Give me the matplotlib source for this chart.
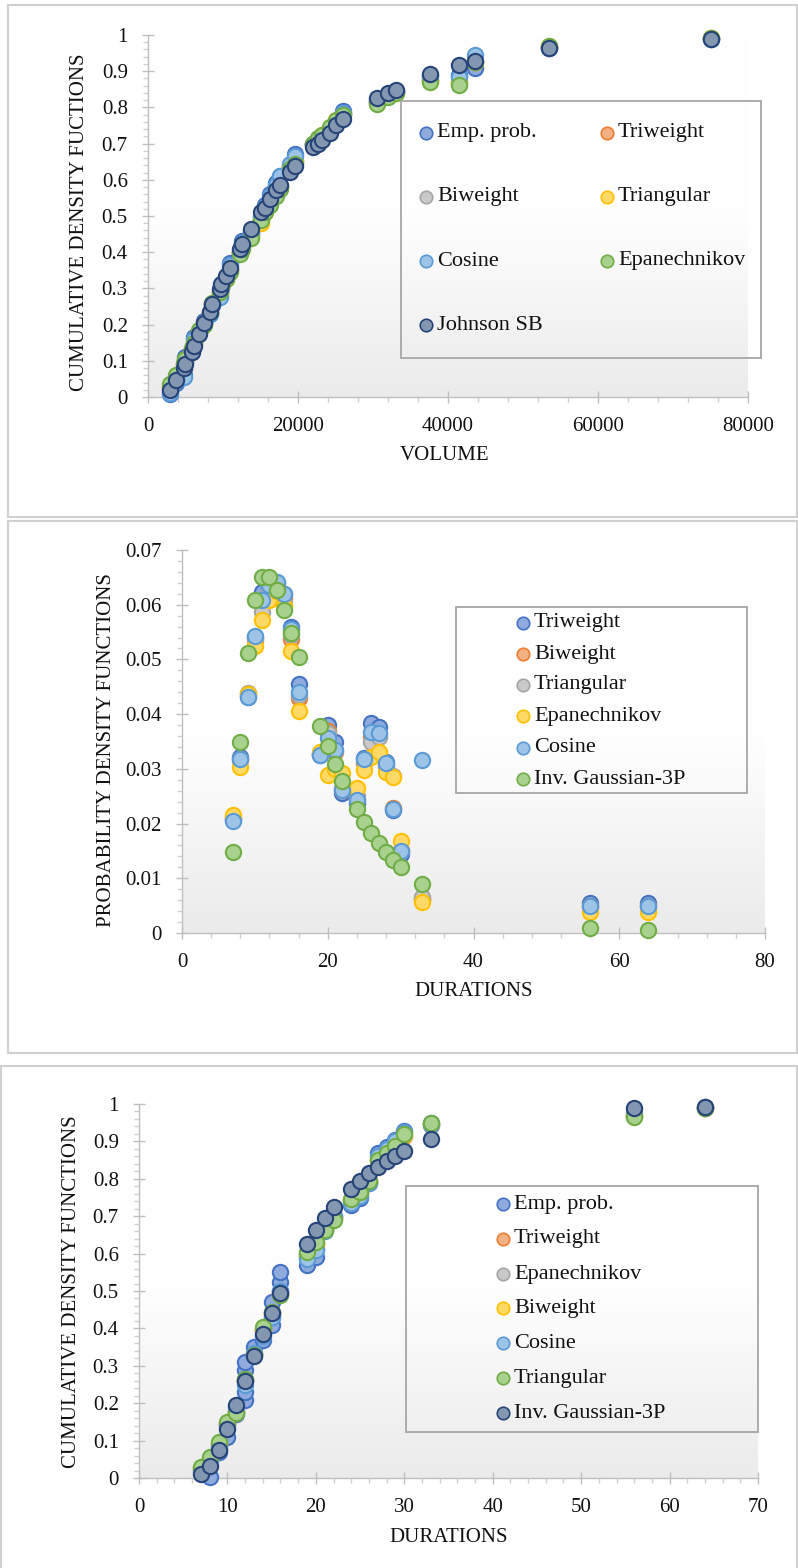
import numpy as np
import matplotlib.pyplot as plt
from matplotlib.patches import Rectangle
from matplotlib.lines import Line2D
from matplotlib.ticker import MultipleLocator, FuncFormatter
from matplotlib.colors import LinearSegmentedColormap

plt.rcParams['font.family'] = ['Liberation Serif', 'DejaVu Serif']

# ---- volume CDF ----
volume = [2990, 3790, 4800, 4950, 5920, 6130, 6800, 7430, 8230, 8590, 9560, 9790,
          10360, 10890, 12230, 12590, 13790, 15120, 15560, 16320, 17120, 17650,
          18890, 19650, 21950, 22600, 23150, 24230, 25100, 26000, 30500, 32000,
          33030, 37650, 41470, 43560, 53470, 75100]
vol_emp = [0.008, 0.040, 0.060, 0.110, 0.130, 0.165, 0.180, 0.210, 0.230, 0.255, 0.280, 0.300,
           0.330, 0.370, 0.400, 0.430, 0.455, 0.500, 0.530, 0.560, 0.590, 0.610,
           0.640, 0.670, 0.700, 0.710, 0.720, 0.740, 0.760, 0.790, 0.820, 0.835,
           0.845, 0.890, 0.890, 0.910, 0.965, 0.990]
vol_triweight = [0.028, 0.052, 0.088, 0.100, 0.130, 0.148, 0.180, 0.205, 0.234, 0.258, 0.290, 0.305,
                 0.328, 0.352, 0.400, 0.418, 0.450, 0.490, 0.515, 0.540, 0.565, 0.582,
                 0.635, 0.650, 0.698, 0.712, 0.722, 0.742, 0.762, 0.782, 0.815, 0.832,
                 0.842, 0.875, 0.870, 0.925, 0.968, 0.991]
vol_biweight = [0.027, 0.051, 0.087, 0.099, 0.129, 0.147, 0.179, 0.204, 0.233, 0.257, 0.289, 0.304,
                0.327, 0.351, 0.399, 0.417, 0.448, 0.488, 0.514, 0.539, 0.564, 0.581,
                0.636, 0.652, 0.698, 0.712, 0.722, 0.742, 0.762, 0.782, 0.815, 0.832,
                0.842, 0.875, 0.870, 0.925, 0.968, 0.991]
vol_triangular = [0.030, 0.054, 0.090, 0.102, 0.132, 0.150, 0.182, 0.202, 0.232, 0.256, 0.287, 0.303,
                  0.326, 0.350, 0.398, 0.415, 0.445, 0.480, 0.512, 0.538, 0.562, 0.580,
                  0.638, 0.652, 0.699, 0.714, 0.724, 0.744, 0.764, 0.781, 0.812, 0.831,
                  0.841, 0.872, 0.866, 0.925, 0.969, 0.991]
vol_cosine = [0.010, 0.045, 0.055, 0.100, 0.125, 0.160, 0.180, 0.205, 0.230, 0.255, 0.275, 0.300,
              0.330, 0.365, 0.400, 0.425, 0.455, 0.495, 0.525, 0.555, 0.585, 0.610,
              0.645, 0.665, 0.700, 0.710, 0.720, 0.740, 0.760, 0.785, 0.815, 0.835,
              0.845, 0.885, 0.885, 0.945, 0.965, 0.990]
vol_epan = [0.035, 0.060, 0.095, 0.105, 0.135, 0.150, 0.185, 0.200, 0.235, 0.260, 0.290, 0.305,
            0.325, 0.345, 0.395, 0.410, 0.440, 0.490, 0.510, 0.530, 0.555, 0.575,
            0.630, 0.645, 0.700, 0.715, 0.725, 0.745, 0.765, 0.780, 0.810, 0.830,
            0.840, 0.870, 0.862, 0.925, 0.970, 0.992]
vol_johnson = [0.020, 0.046, 0.081, 0.090, 0.124, 0.140, 0.173, 0.204, 0.235, 0.258, 0.297, 0.311,
               0.333, 0.357, 0.410, 0.424, 0.465, 0.511, 0.523, 0.548, 0.571, 0.585,
               0.622, 0.638, 0.691, 0.700, 0.709, 0.729, 0.750, 0.767, 0.826, 0.839,
               0.849, 0.893, 0.916, 0.927, 0.965, 0.990]

# ---- durations PDF ----
durations = [7, 8, 9, 10, 11, 12, 13, 14, 15, 16, 19, 20, 21, 22, 24, 25, 26, 27, 28, 29, 30, 33, 56, 64]
pdf_triweight = [0.0207, 0.0321, 0.0432, 0.0541, 0.0623, 0.0630, 0.0640, 0.0620, 0.0560, 0.0456, 0.0325, 0.0381,
                 0.0350, 0.0255, 0.0237, 0.0320, 0.0383, 0.0376, 0.0313, 0.0225, 0.0144, 0.0063, 0.0054, 0.0054]
pdf_biweight = [0.0210, 0.0316, 0.0436, 0.0535, 0.0600, 0.0622, 0.0635, 0.0612, 0.0538, 0.0429, 0.0327, 0.0370,
                0.0330, 0.0262, 0.0245, 0.0310, 0.0360, 0.0360, 0.0305, 0.0228, 0.0152, 0.0062, 0.0050, 0.0050]
pdf_triangular = [0.0210, 0.0318, 0.0439, 0.0538, 0.0587, 0.0625, 0.0632, 0.0605, 0.0545, 0.0435, 0.0328, 0.0365,
                  0.0335, 0.0265, 0.0250, 0.0312, 0.0350, 0.0358, 0.0305, 0.0287, 0.0150, 0.0065, 0.0048, 0.0048]
pdf_epan = [0.0216, 0.0303, 0.0436, 0.0524, 0.0572, 0.0608, 0.0625, 0.0598, 0.0516, 0.0406, 0.0330, 0.0288,
            0.0300, 0.0293, 0.0265, 0.0297, 0.0322, 0.0331, 0.0295, 0.0285, 0.0169, 0.0057, 0.0038, 0.0038]
pdf_cosine = [0.0205, 0.0318, 0.0432, 0.0543, 0.0609, 0.0636, 0.0642, 0.0619, 0.0555, 0.0441, 0.0326, 0.0356,
              0.0334, 0.0262, 0.0243, 0.0318, 0.0368, 0.0365, 0.0310, 0.0226, 0.0150, 0.0317, 0.0050, 0.0050]
pdf_invgauss = [0.0148, 0.0350, 0.0512, 0.0608, 0.0650, 0.0651, 0.0627, 0.0591, 0.0549, 0.0505, 0.0378, 0.0342,
                0.0309, 0.0277, 0.0226, 0.0202, 0.0182, 0.0165, 0.0148, 0.0134, 0.0120, 0.0090, 0.0010, 0.0005]

# ---- durations CDF ----
dur_obs = [8, 9, 9, 10, 10, 11, 11, 12, 12, 12, 12, 12, 13, 13, 14, 14, 15, 15, 15, 16, 16, 16,
           19, 19, 20, 20, 21, 22, 24, 25, 26, 27, 28, 29, 30, 33, 56, 64]
cdf_emp = [0.003, 0.070, 0.085, 0.110, 0.145, 0.170, 0.190, 0.209, 0.231, 0.260, 0.289, 0.311, 0.330, 0.351,
           0.370, 0.395, 0.410, 0.430, 0.470, 0.500, 0.525, 0.552, 0.570, 0.600, 0.590, 0.612, 0.665, 0.700,
           0.730, 0.750, 0.790, 0.870, 0.885, 0.905, 0.929, 0.950, 0.975, 0.992]
cdf_triweight = [0.025, 0.050, 0.090, 0.145, 0.178, 0.262, 0.332, 0.395, 0.440, 0.492, 0.590, 0.625,
                 0.665, 0.695, 0.740, 0.760, 0.795, 0.850, 0.872, 0.893, 0.915, 0.945, 0.968, 0.990]
cdf_epan = [0.027, 0.052, 0.092, 0.147, 0.176, 0.263, 0.331, 0.398, 0.442, 0.491, 0.595, 0.628,
            0.664, 0.693, 0.742, 0.762, 0.795, 0.850, 0.871, 0.891, 0.918, 0.946, 0.967, 0.990]
cdf_biweight = [0.026, 0.051, 0.091, 0.146, 0.177, 0.262, 0.331, 0.396, 0.441, 0.491, 0.592, 0.626,
                0.664, 0.694, 0.741, 0.761, 0.795, 0.850, 0.871, 0.892, 0.916, 0.945, 0.967, 0.990]
cdf_cosine = [0.020, 0.045, 0.080, 0.140, 0.180, 0.250, 0.335, 0.380, 0.430, 0.500, 0.585, 0.610,
              0.660, 0.700, 0.735, 0.755, 0.790, 0.860, 0.880, 0.900, 0.925, 0.945, 0.968, 0.990]
cdf_triangular = [0.030, 0.057, 0.097, 0.150, 0.173, 0.265, 0.330, 0.403, 0.445, 0.490, 0.605, 0.630,
                  0.663, 0.690, 0.745, 0.765, 0.795, 0.850, 0.870, 0.889, 0.920, 0.948, 0.966, 0.990]
cdf_invgauss = [0.010, 0.032, 0.075, 0.130, 0.195, 0.260, 0.325, 0.385, 0.442, 0.495, 0.625, 0.663,
                0.696, 0.724, 0.774, 0.795, 0.815, 0.831, 0.847, 0.862, 0.874, 0.906, 0.988, 0.991]

# marker colours (edge, fill)
BLUE = ('#4472C4', '#8FAADC')
ORANGE = ('#ED7D31', '#F4B183')
GREY = ('#A5A5A5', '#C9C9C9')
YELLOW = ('#FFC000', '#FFD966')
LBLUE = ('#5B9BD5', '#9DC3E6')
GREEN = ('#70AD47', '#A9D18E')
NAVY = ('#264478', '#8497B0')

W, H = 798, 1568
fig = plt.figure(figsize=(W / 100, H / 100), dpi=100)


def fx(x):
    return x / W


def fy(y):
    return 1 - y / H


def frame(x0, y0, x1, y1):
    fig.add_artist(Rectangle((fx(x0), fy(y1)), fx(x1 - x0), (y1 - y0) / H,
                             transform=fig.transFigure, fill=False, ec='#d0d0d0', lw=1.5))


def make_axes(left, top, right, bottom):
    ax = fig.add_axes([fx(left), fy(bottom), fx(right - left), (bottom - top) / H])
    grad = np.linspace(0, 1, 256)[:, None]
    cmap = LinearSegmentedColormap.from_list('bg', ['#ffffff', '#fefefe', '#ebebeb'])
    ax.imshow(grad, cmap=cmap, extent=[0, 1, 0, 1], transform=ax.transAxes,
              aspect='auto', zorder=0, interpolation='bilinear')
    for s in ['top', 'right']:
        ax.spines[s].set_visible(False)
    for s in ['left', 'bottom']:
        ax.spines[s].set_color('#bfbfbf')
        ax.spines[s].set_linewidth(1)
    ax.tick_params(which='major', direction='inout', length=9, width=1, color='#bfbfbf',
                   labelsize=15, labelcolor='#111111', pad=10)
    ax.tick_params(which='minor', direction='out', length=3.5, width=1, color='#cfcfcf')
    fmt = FuncFormatter(lambda v, p: '%g' % round(v, 6))
    ax.xaxis.set_major_formatter(fmt)
    ax.yaxis.set_major_formatter(fmt)
    return ax


def titles(xlab, xpos, ylab, ypos):
    fig.text(fx(xpos[0]), fy(xpos[1]), xlab, fontsize=15, ha='center', va='center', color='#111111')
    fig.text(fx(ypos[0]), fy(ypos[1]), ylab, fontsize=15, ha='center', va='center',
             rotation=90, color='#111111')


def scatter(ax, x, y, col, z):
    ax.plot(x, y, linestyle='none', marker='o', markersize=11, markeredgewidth=1.5,
            markeredgecolor=col[0], markerfacecolor=col[1], clip_on=False, zorder=z)


def legend(box, entries, size=16):
    x0, y0, x1, y1 = box
    fig.add_artist(Rectangle((fx(x0), fy(y1)), fx(x1 - x0), (y1 - y0) / H,
                             transform=fig.transFigure, fill=False, ec='#a6a6a6', lw=1.3))
    for mx, my, label, col in entries:
        fig.add_artist(Line2D([fx(mx)], [fy(my)], transform=fig.transFigure, marker='o',
                              markersize=9, markeredgewidth=1.2,
                              markeredgecolor=col[0], markerfacecolor=col[1]))
        fig.text(fx(mx + 11), fy(my), label, fontsize=size, va='center', ha='left', color='#111111')


# ---------------- panel 1 ----------------
frame(8, 5, 797, 517)
ax1 = make_axes(148, 35, 748, 397)
series1 = [(vol_emp, BLUE), (vol_triweight, ORANGE), (vol_biweight, GREY), (vol_triangular, YELLOW),
           (vol_cosine, LBLUE), (vol_epan, GREEN), (vol_johnson, NAVY)]
for i, (vals, col) in enumerate(series1):
    scatter(ax1, volume, vals, col, 3 + i)
ax1.set_xlim(0, 80000)
ax1.set_ylim(0, 1)
ax1.xaxis.set_major_locator(MultipleLocator(20000))
ax1.xaxis.set_minor_locator(MultipleLocator(4000))
ax1.yaxis.set_major_locator(MultipleLocator(0.1))
ax1.yaxis.set_minor_locator(MultipleLocator(0.02))
titles('VOLUME', (445, 456), 'CUMULATIVE DENSITY FUCTIONS', (80, 222))
legend((401, 101, 761, 358),
       [(426, 133, 'Emp. prob.', BLUE), (607, 133, 'Triweight', ORANGE),
        (426, 197, 'Biweight', GREY), (607, 197, 'Triangular', YELLOW),
        (426, 261, 'Cosine', LBLUE), (607, 261, 'Epanechnikov', GREEN),
        (426, 325, 'Johnson SB', NAVY)])

# ---------------- panel 2 ----------------
frame(8, 521, 797, 1053)
ax2 = make_axes(182, 550, 765, 933)
series2 = [(pdf_triweight, BLUE), (pdf_biweight, ORANGE), (pdf_triangular, GREY), (pdf_epan, YELLOW),
           (pdf_cosine, LBLUE), (pdf_invgauss, GREEN)]
for i, (vals, col) in enumerate(series2):
    scatter(ax2, durations, vals, col, 3 + i)
ax2.set_xlim(0, 80)
ax2.set_ylim(0, 0.07)
ax2.xaxis.set_major_locator(MultipleLocator(20))
ax2.xaxis.set_minor_locator(MultipleLocator(4))
ax2.yaxis.set_major_locator(MultipleLocator(0.01))
ax2.yaxis.set_minor_locator(MultipleLocator(0.002))
titles('DURATIONS', (474, 992), 'PROBABILITY DENSITY FUNCTIONS', (107, 750))
legend((456, 607, 747, 793),
       [(523, 623, 'Triweight', BLUE), (523, 654, 'Biweight', ORANGE),
        (523, 685, 'Triangular', GREY), (523, 716, 'Epanechnikov', YELLOW),
        (523, 748, 'Cosine', LBLUE), (523, 779, 'Inv. Gaussian-3P', GREEN)])

# ---------------- panel 3 ----------------
frame(1, 1066, 797, 1580)
ax3 = make_axes(139, 1104, 758, 1478)
scatter(ax3, dur_obs, cdf_emp, BLUE, 3)
series3 = [(cdf_triweight, ORANGE), (cdf_epan, GREY), (cdf_biweight, YELLOW),
           (cdf_cosine, LBLUE), (cdf_triangular, GREEN), (cdf_invgauss, NAVY)]
for i, (vals, col) in enumerate(series3):
    scatter(ax3, durations, vals, col, 4 + i)
ax3.set_xlim(0, 70)
ax3.set_ylim(0, 1)
ax3.xaxis.set_major_locator(MultipleLocator(10))
ax3.xaxis.set_minor_locator(MultipleLocator(2))
ax3.yaxis.set_major_locator(MultipleLocator(0.1))
ax3.yaxis.set_minor_locator(MultipleLocator(0.02))
titles('DURATIONS', (449, 1538), 'CUMULATIVE DENSITY FUNCTIONS', (72, 1292))
legend((406, 1186, 758, 1432),
       [(503, 1204, 'Emp. prob.', BLUE), (503, 1239, 'Triweight', ORANGE),
        (503, 1274, 'Epanechnikov', GREY), (503, 1308, 'Biweight', YELLOW),
        (503, 1343, 'Cosine', LBLUE), (503, 1378, 'Triangular', GREEN),
        (503, 1413, 'Inv. Gaussian-3P', NAVY)])

fig.savefig('out.png', dpi=100)
